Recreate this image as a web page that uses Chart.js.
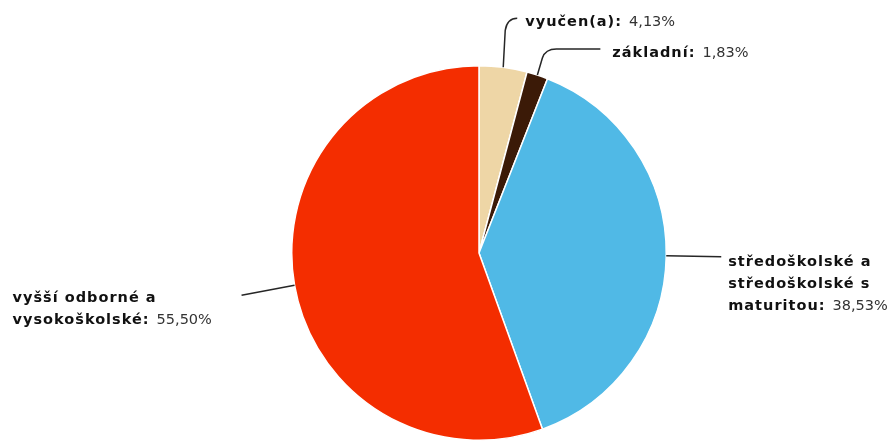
<!DOCTYPE html>
<html>
<head>
<meta charset="utf-8">
<script src="https://cdn.jsdelivr.net/npm/chart.js@4.4.1/dist/chart.umd.min.js"></script>
<style>
  html, body { margin: 0; padding: 0; background: #ffffff; }
  #wrap { width: 895px; height: 441px; }
</style>
</head>
<body>
<div id="wrap"><canvas id="pie" width="895" height="441"></canvas></div>
<script>
// Vzdělání – podíl v procentech
const categories = [
  ['vyučen(a):'],
  ['základní:'],
  ['středoškolské a', 'středoškolské s', 'maturitou:'],
  ['vyšší odborné a', 'vysokoškolské:']
];
const shares = [4.13, 1.83, 38.53, 55.50];
const colors = ['#EED6A6', '#3B1A07', '#50B9E6', '#F42D00'];

// Leader lines and label anchors, offsets from the slice's outer mid-point
const placement = [
  { path: [[2, -37], ['q', 4, -49, 14, -49]], text: [22, -45] },
  { path: [[5, -17], ['q', 8, -26, 19, -26], [63, -26]], text: [75, -22] },
  { path: [[55, 1]], text: [62, 6.5] },
  { path: [[-53, 10]], text: [-282, 13] }
];

const fmt = v => v.toFixed(2).replace('.', ',') + '%';

const labelPlugin = {
  id: 'sliceLabels',
  afterDatasetsDraw(chart) {
    const ctx = chart.ctx;
    const arcs = chart.getDatasetMeta(0).data;
    arcs.forEach((arc, i) => {
      const mid = (arc.startAngle + arc.endAngle) / 2;
      const ax = arc.x + Math.cos(mid) * arc.outerRadius;
      const ay = arc.y + Math.sin(mid) * arc.outerRadius;
      const p = placement[i];

      ctx.save();
      ctx.strokeStyle = '#262626';
      ctx.lineWidth = 1.5;
      ctx.beginPath();
      ctx.moveTo(ax, ay);
      p.path.forEach(seg => {
        if (seg[0] === 'q') {
          ctx.quadraticCurveTo(ax + seg[1], ay + seg[2], ax + seg[3], ay + seg[4]);
        } else {
          ctx.lineTo(ax + seg[0], ay + seg[1]);
        }
      });
      ctx.stroke();

      const tx = ax + p.text[0];
      let ty = ay + p.text[1];
      ctx.textBaseline = 'middle';
      ctx.textAlign = 'left';
      const lines = categories[i];
      lines.forEach((line, k) => {
        ctx.font = 'bold 14.5px "DejaVu Sans"';
        ctx.letterSpacing = '1px';
        ctx.fillStyle = '#111111';
        ctx.fillText(line, tx, ty);
        if (k === lines.length - 1) {
          const w = ctx.measureText(line).width;
          ctx.font = '14.5px "DejaVu Sans"';
          ctx.letterSpacing = '0px';
          ctx.fillStyle = '#333333';
          ctx.fillText(fmt(shares[i]), tx + w + 7, ty);
        }
        ty += 22;
      });
      ctx.restore();
    });
  }
};

new Chart(document.getElementById('pie'), {
  type: 'pie',
  data: {
    labels: categories.map(c => c.join(' ')),
    datasets: [{
      data: shares,
      backgroundColor: colors,
      borderColor: '#ffffff',
      borderWidth: 1.5
    }]
  },
  options: {
    responsive: false,
    animation: false,
    layout: { padding: { top: 65, bottom: 0, left: 63, right: 0 } },
    plugins: {
      legend: { display: false },
      tooltip: { enabled: false }
    }
  },
  plugins: [labelPlugin]
});
</script>
</body>
</html>
